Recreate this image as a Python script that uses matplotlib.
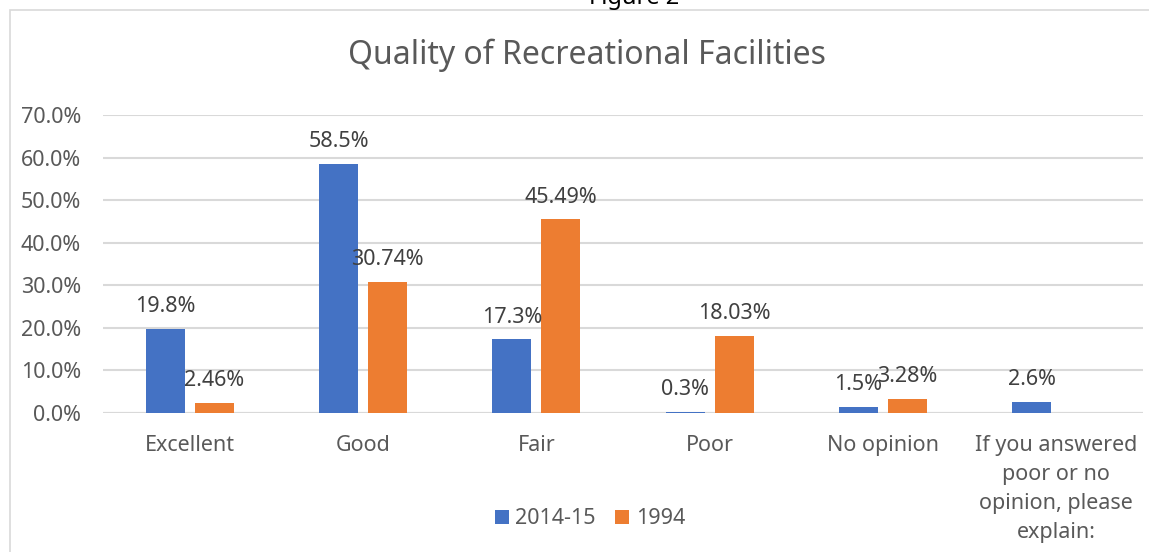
import matplotlib
matplotlib.use("Agg")
import matplotlib.pyplot as plt
from matplotlib import font_manager
from matplotlib.patches import Rectangle
import numpy as np

categories = ["Excellent", "Good", "Fair", "Poor", "No opinion",
              "If you answered\npoor or no\nopinion, please\nexplain:"]
series_names = ["2014-15", "1994"]
values_2014 = [19.8, 58.5, 17.3, 0.3, 1.5, 2.6]
values_1994 = [2.46, 30.74, 45.49, 18.03, 3.28, None]
labels_2014 = ["19.8%", "58.5%", "17.3%", "0.3%", "1.5%", "2.6%"]
labels_1994 = ["2.46%", "30.74%", "45.49%", "18.03%", "3.28%", None]
yticks = [0, 10, 20, 30, 40, 50, 60, 70]

available = {f.name for f in font_manager.fontManager.ttflist}
body_font = "Noto Sans" if "Noto Sans" in available else "DejaVu Sans"
if "Liberation Sans Narrow" in available:
    title_font, title_size = "Liberation Sans Narrow", 22
else:
    title_font, title_size = body_font, 23

plt.rcParams["font.family"] = [body_font, "DejaVu Sans"]

BLUE = "#4472C4"
ORANGE = "#ED7D31"
GRID = "#D9D9D9"
TXT = "#595959"
LBL = "#404040"
FS = 15.5

fig = plt.figure(figsize=(11.49, 5.52), dpi=100)
W, H = 1149, 552

# outer chart border
fig.patches.append(Rectangle((10 / W, -0.1), 1.2, 1.1 - 10 / H,
                             transform=fig.transFigure, fill=False,
                             edgecolor=GRID, linewidth=1.2))
fig.text(634 / W, 1 - 4.5 / H, "Figure 2", ha="center", va="baseline",
         fontsize=17, color="black")
fig.text(587 / W, 1 - 55 / H, "Quality of Recreational Facilities",
         ha="center", va="center", fontsize=title_size, color=TXT,
         family=[title_font, "DejaVu Sans"])

ax = fig.add_axes([103 / W, 1 - 413 / H, 1040 / W, 298 / H])
x = np.arange(len(categories))
bw = 0.225
off = 0.1415

v14 = np.array([np.nan if v is None else v for v in values_2014], dtype=float)
v94 = np.array([np.nan if v is None else v for v in values_1994], dtype=float)
ax.bar(x - off, v14, width=bw, color=BLUE, label=series_names[0], zorder=3)
ax.bar(x + off, v94, width=bw, color=ORANGE, label=series_names[1], zorder=3)

for xi, v, lab in zip(x - off, values_2014, labels_2014):
    if v is not None:
        ax.annotate(lab, (xi, v), xytext=(0, 8.5), textcoords="offset points",
                    ha="center", va="bottom", fontsize=FS, color=LBL, zorder=4)
for xi, v, lab in zip(x + off, values_1994, labels_1994):
    if v is not None:
        ax.annotate(lab, (xi, v), xytext=(0, 8.5), textcoords="offset points",
                    ha="center", va="bottom", fontsize=FS, color=LBL, zorder=4)

ax.set_xlim(-0.5, len(categories) - 0.5)
ax.set_ylim(0, 70)
ax.set_yticks(yticks)
ax.set_yticklabels([f"{t:.1f}%" for t in yticks], fontsize=FS, color=TXT)
ax.set_xticks(x)
ax.set_xticklabels(categories, fontsize=FS, color=TXT, linespacing=1.5,
                   va="top")
ax.tick_params(axis="both", length=0)
ax.tick_params(axis="y", pad=16)
ax.tick_params(axis="x", pad=16)
ax.grid(axis="y", color=GRID, linewidth=1.5, zorder=0)
for s in ax.spines.values():
    s.set_visible(False)
ax.axhline(0, color=GRID, linewidth=1.5, zorder=2)

leg = fig.legend(loc="center", bbox_to_anchor=(590 / W, 1 - 519 / H), ncol=2,
                 frameon=False, fontsize=FS, handlelength=0.65,
                 handleheight=0.65, handletextpad=0.3, columnspacing=0.9)
for t in leg.get_texts():
    t.set_color(TXT)

fig.savefig("out.png", dpi=100)
